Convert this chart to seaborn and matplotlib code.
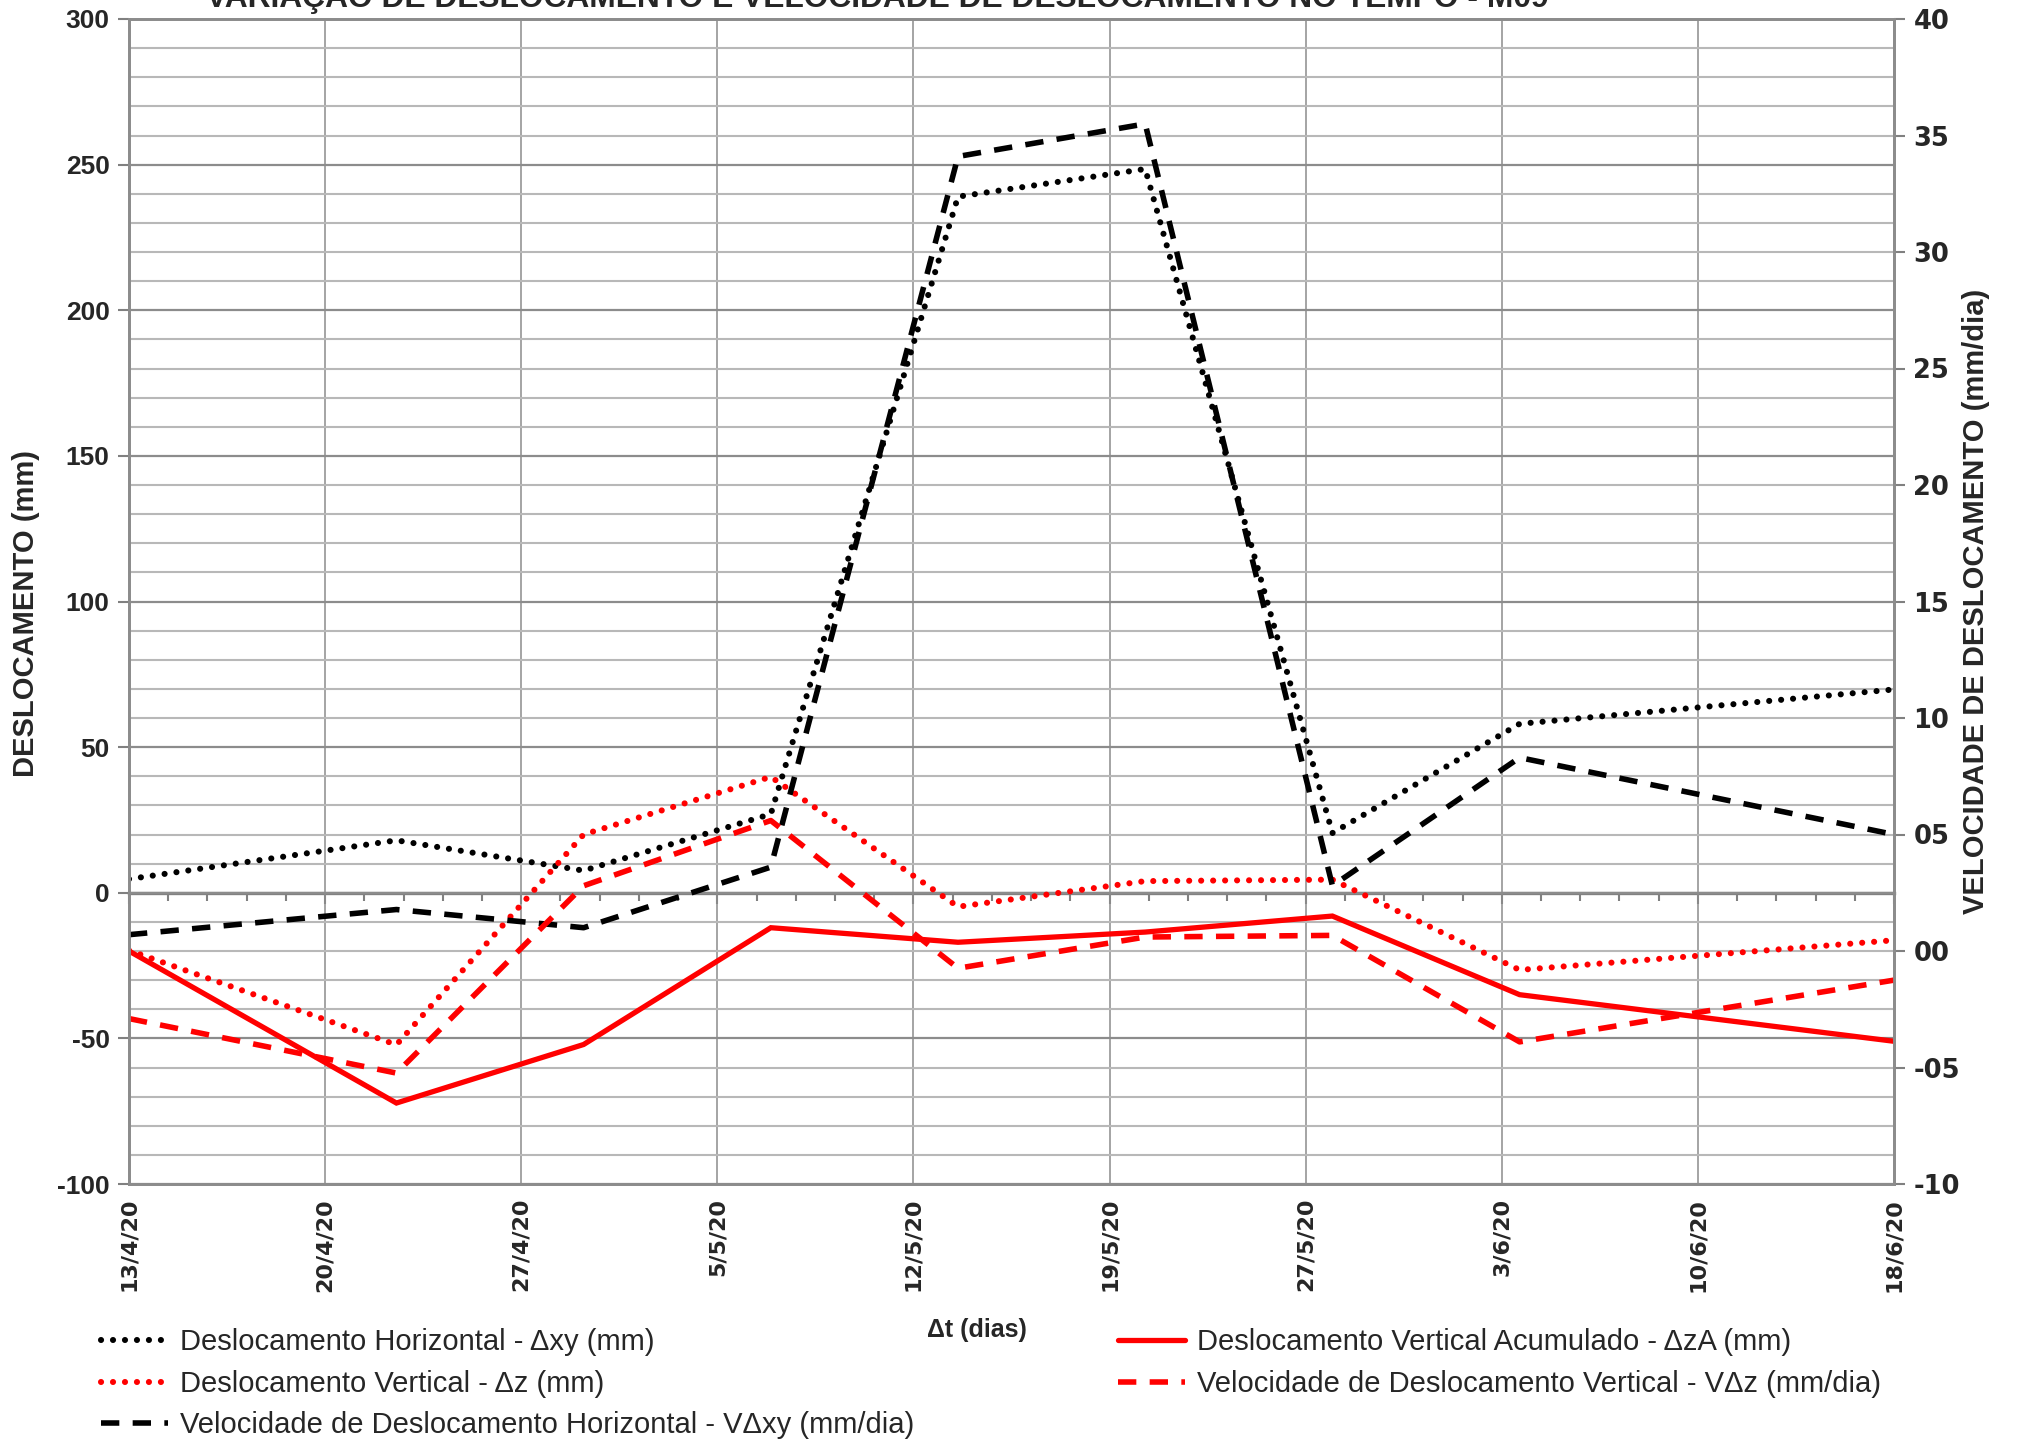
import numpy as np
import pandas as pd
import matplotlib
matplotlib.use("Agg")
import matplotlib.pyplot as plt
from matplotlib.ticker import MultipleLocator, FixedLocator
import seaborn as sns

# ---------------- data ----------------
dates = ["13/4/2020", "23/4/2020", "30/4/2020", "7/5/2020", "14/5/2020",
         "21/5/2020", "28/5/2020", "4/6/2020", "18/6/2020"]
desl_horizontal = [4.7, 18.0, 7.6, 27.0, 239.0, 248.5, 20.5, 58.0, 69.8]
desl_vertical = [-19.8, -52.2, 20.0, 39.8, -4.8, 4.0, 4.5, -26.5, -16.3]
desl_vertical_acum = [-20.0, -72.2, -52.1, -12.0, -17.0, -13.5, -8.0, -35.0, -51.0]
vel_horizontal = [0.7, 1.78, 1.0, 3.6, 34.1, 35.5, 2.8, 8.3, 5.0]
vel_vertical = [-2.9, -5.24, 2.8, 5.6, -0.74, 0.6, 0.67, -3.9, -1.25]

x_tick_labels = ["13/4/20", "20/4/20", "27/4/20", "5/5/20", "12/5/20",
                 "19/5/20", "27/5/20", "3/6/20", "10/6/20", "18/6/20"]
left_ticks = [-100, -50, 0, 50, 100, 150, 200, 250, 300]
right_ticks = [-10, -5, 0, 5, 10, 15, 20, 25, 30, 35, 40]
right_tick_labels = ["-10", "-05", "00", "05", "10", "15", "20", "25", "30", "35", "40"]

title = "VARIAÇÃO DE DESLOCAMENTO E VELOCIDADE DE DESLOCAMENTO NO TEMPO - M09"
labels = ["Deslocamento Horizontal - \u0394xy (mm)",
          "Deslocamento Vertical - \u0394z (mm)",
          "Velocidade de Deslocamento Horizontal - V\u0394xy (mm/dia)",
          "Deslocamento Vertical Acumulado - \u0394zA (mm)",
          "Velocidade de Deslocamento Vertical - V\u0394z (mm/dia)"]

# ---------------- setup ----------------
sns.set_theme(style="white")
plt.rcParams["font.family"] = ["Liberation Sans", "DejaVu Sans"]

t = pd.to_datetime(dates, format="%d/%m/%Y")
days = ((t - t[0]) / pd.Timedelta(days=1)).to_numpy()
xmax = 66.0

W, H = 2024, 1439
fig = plt.figure(figsize=(W / 100, H / 100), dpi=100)
left, right, top, bottom = 129, 1894, 19, 1184
ax = fig.add_axes([left / W, 1 - bottom / H, (right - left) / W, (bottom - top) / H])
ax2 = ax.twinx()

ax.set_xlim(0, xmax)
ax.set_ylim(-100, 300)
ax2.set_ylim(-10, 40)

LW_DOT = 4.4
LW_DASH = 4.0
LW_SOLID = 3.8
dot = (0, (0.01, 1.95))
dash = (0, (3.3, 2.4))
red = "#ff0000"

l1 = sns.lineplot(x=days, y=desl_horizontal, ax=ax, color="black", lw=LW_DOT, legend=False,
                  label=labels[0]).lines[-1]
l1.set_linestyle(dot); l1.set_dash_capstyle("round")
l2 = sns.lineplot(x=days, y=desl_vertical, ax=ax, color=red, lw=LW_DOT, legend=False,
                  label=labels[1]).lines[-1]
l2.set_linestyle(dot); l2.set_dash_capstyle("round")
l4 = sns.lineplot(x=days, y=desl_vertical_acum, ax=ax, color=red, lw=LW_SOLID, legend=False,
                  label=labels[3]).lines[-1]
l4.set_solid_joinstyle("miter")
l3 = sns.lineplot(x=days, y=vel_horizontal, ax=ax2, color="black", lw=LW_DASH, legend=False,
                  label=labels[2]).lines[-1]
l3.set_linestyle(dash)
l5 = sns.lineplot(x=days, y=vel_vertical, ax=ax2, color=red, lw=LW_DASH, legend=False,
                  label=labels[4]).lines[-1]
l5.set_linestyle(dash)
for a in (ax, ax2):
    if a.get_legend() is not None:
        a.get_legend().remove()

# ---------------- axes styling ----------------
xt = np.linspace(0, xmax, 10)
ax.set_xticks(xt)
ax.set_xticklabels(x_tick_labels, rotation=90, fontsize=16, fontweight="bold",
                   va="top", ha="center", family=["DejaVu Sans"])
ax.tick_params(axis="x", length=0, pad=10)

ax.yaxis.set_major_locator(FixedLocator(left_ticks))
ax.yaxis.set_minor_locator(MultipleLocator(10))
ax.set_yticklabels([str(v) for v in left_ticks], fontsize=19, fontweight="bold")
ax.tick_params(axis="y", which="major", length=8, width=1.5, color="#808080",
               left=True, pad=6)
ax.tick_params(axis="y", which="minor", length=0)

ax2.set_yticks(right_ticks)
ax2.set_yticklabels(right_tick_labels, fontsize=18.5, fontweight="bold",
                    family=["DejaVu Sans"])
ax2.tick_params(axis="y", length=8, width=1.5, color="#808080", right=True, pad=6)

ax.grid(True, which="major", axis="y", color="#8c8c8c", lw=1.6)
ax.grid(True, which="minor", axis="y", color="#b8b8b8", lw=1.5)
ax.grid(True, which="major", axis="x", color="#8c8c8c", lw=1.1)
ax.set_axisbelow(True)

for a in (ax, ax2):
    for s in a.spines.values():
        s.set_color("#8c8c8c")
        s.set_linewidth(2)

# zero line axis with minor ticks
sec = ax.secondary_xaxis(0.25)
sec.set_xticks(xt)
sec.xaxis.set_minor_locator(MultipleLocator(xmax / 45))
sec.tick_params(axis="x", which="both", labelbottom=False, color="#808080",
                width=1.5, direction="out")
sec.tick_params(axis="x", which="major", length=8)
sec.tick_params(axis="x", which="minor", length=6)
sec.spines["bottom"].set_color("#808080")
sec.spines["bottom"].set_linewidth(2.4)

ax.set_ylabel("DESLOCAMENTO (mm)", fontsize=21, fontweight="bold")
ax.yaxis.set_label_coords(-(129 - 40) / (right - left), 0.49)
ax2.set_ylabel("VELOCIDADE DE DESLOCAMENTO (mm/dia)", fontsize=21, fontweight="bold")
ax2.yaxis.set_label_coords(1 + (1962 - 1894) / (right - left), 0.5)
ax.set_xlabel("")

fig.text(877 / W, 1 - 7 / H, title, ha="center", va="baseline",
         fontsize=22.9, fontweight="bold")
fig.text(977 / W, 1 - 1330 / H, "\u0394t (dias)", ha="center", va="center",
         fontsize=18, fontweight="bold")

leg_kw = dict(frameon=False, fontsize=21, handlelength=2.3, handletextpad=0.4,
              labelspacing=0.47, borderpad=0, borderaxespad=0, loc="upper left")
fig.legend([l1, l2, l3], [labels[0], labels[1], labels[2]],
           bbox_to_anchor=(101 / W, 1 - 1328 / H), **leg_kw)
fig.legend([l4, l5], [labels[3], labels[4]],
           bbox_to_anchor=(1118 / W, 1 - 1328 / H), **leg_kw)

fig.savefig("out.png", dpi=100)
